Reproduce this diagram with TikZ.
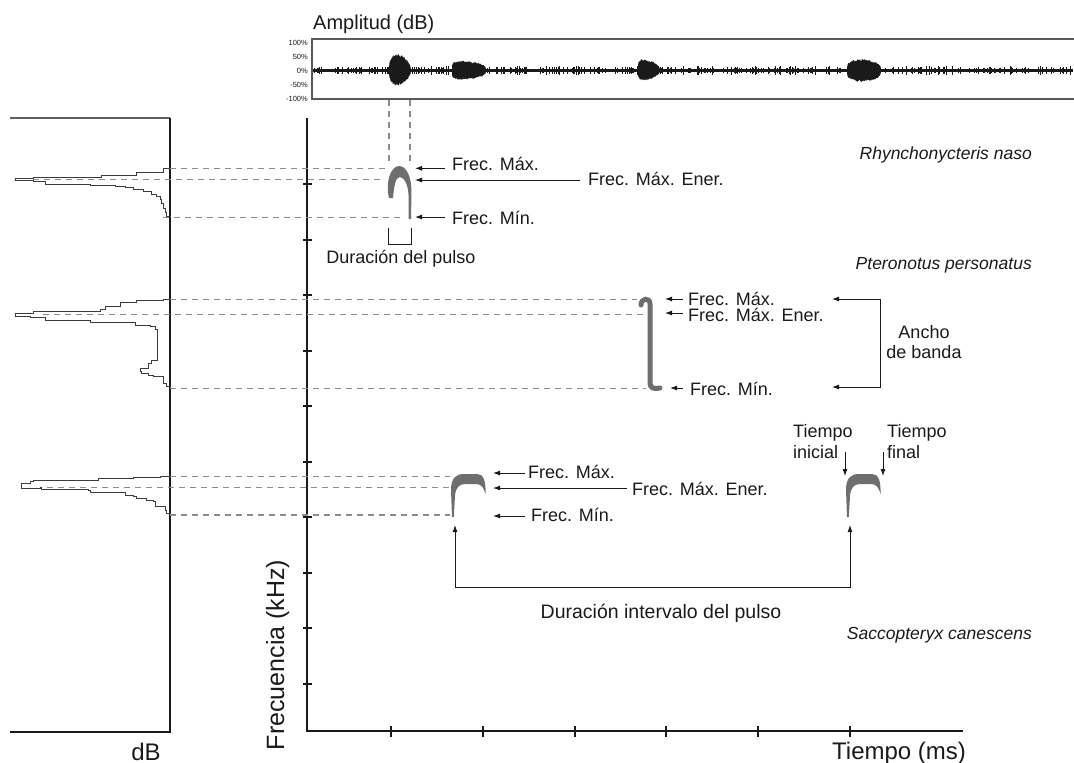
\documentclass[tikz,border=0pt]{standalone}
\usepackage{fontspec}
\setmainfont{Liberation Sans}
\usetikzlibrary{arrows.meta}
\definecolor{pulsegray}{HTML}{6E6E6E}
\definecolor{dashgray}{HTML}{8C8C8C}
\definecolor{ink}{HTML}{1A1A1A}
\newcommand\wburst[6]{%
  \fill[ink] plot[domain=0.002:0.998, samples=60] ({#1+(#2-#1)*\x}, {70.5-#3*pow(sin(180*\x^#5),#6)*(0.8+0.2*rnd)})
    -- plot[domain=0.998:0.002, samples=60] ({#1+(#2-#1)*\x}, {70.5+#4*pow(sin(180*\x^#5),#6)*(0.8+0.2*rnd)}) -- cycle;}
\newcommand\archpulse[1]{%
  \fill[pulsegray, xshift=#1] (452,517) -- (451,490) .. controls (451,478) and (456,474) .. (464,474) -- (477,474)
    .. controls (483,474) and (486,480) .. (485.5,494) .. controls (483.5,487) and (481,484) .. (476,484) -- (465,484)
    .. controls (459,484) and (455.5,488) .. (455,496) -- (453.8,517) -- cycle;}
\begin{document}
\begin{tikzpicture}[x=1pt,y=-1pt,
  lbl/.style={inner sep=0pt, text=ink, font=\fontsize{18}{20}\selectfont},
  spc/.style={inner sep=0pt, text=ink, font=\fontsize{17.5}{20}\selectfont\itshape},
  big/.style={inner sep=0pt, text=ink, font=\fontsize{24}{26}\selectfont},
  pct/.style={inner sep=0pt, text=ink, font=\fontsize{7.5}{8}\selectfont, anchor=east},
  dashline/.style={dashgray, line width=1.3pt, dash pattern=on 6pt off 5pt},
  arr/.style={ink, line width=0.9pt, -{Latex[length=7pt,width=5pt]}},
  darr/.style={ink, line width=0.9pt, {Latex[length=7pt,width=5pt]}-{Latex[length=7pt,width=5pt]}},
  spec/.style={ink!85, line width=1pt, line join=miter},
  tick/.style={ink, line width=2pt}]
\useasboundingbox (0,0) rectangle (1074,763);

% ---------- waveform panel ----------
\node[lbl, anchor=base west, font=\fontsize{20}{22}\selectfont] (amp) at (313,29.5) {Amplitud (dB)};
\draw[gray!70!black, line width=1.2pt] (1074,39) -- (312,39) -- (312,99) -- (1074,99);
\node[pct] (p100) at (308,42.7) {100\%};
\node[pct] (p50) at (308,57) {50\%};
\node[pct] (p0) at (308,70.7) {0\%};
\node[pct] (pm50) at (308,84.5) {-50\%};
\node[pct] (pm100) at (308,99) {-100\%};
\draw[ink, line width=3.6pt] (313,70.5) -- (1073,70.5);
\pgfmathsetseed{7}
\foreach \k in {1,...,380}{
  \pgfmathsetmacro\xx{314+758*rnd}
  \pgfmathsetmacro\hh{1.8+2.4*rnd}
  \draw[ink, line width=1pt] (\xx,70.5-\hh) -- (\xx,70.5+\hh);
}
\wburst{389}{411}{17}{15.5}{0.7}{0.5}
\wburst{452}{486}{10}{9.5}{0.55}{0.3}
\wburst{638}{660}{11.5}{10}{0.5}{0.4}
\wburst{847}{881}{11.5}{11.5}{0.8}{0.3}

% ---------- spectrum panel ----------
\draw[gray!75!black, line width=1.3pt] (10,118) -- (170,118);
\draw[ink, line width=1.1pt] (170,118) -- (170,732) -- (10,732);
\node[big, anchor=base] (db) at (146,760) {dB};

% spectrum 1
\draw[spec] (170,168.7) -| (163.3,172.3) -| (136,175.7) -| (101,177.3) -| (33.3,178.3) -| (15,180.7)
  -| (33.3,181.7) -| (45,184) -| (90,185.3) -| (115,186.5) -| (125,187.8) -| (133.3,189.2) -| (143.3,191.2)
  -| (151.7,194) -| (156.7,196.5) -| (160,199.5) -| (161.7,203.5) -| (163.3,208.3) -| (165,212) -| (166.7,216) -| (170,217.3);
% spectrum 2
\draw[spec] (170,299.3) -| (163.3,300) -| (136.7,302.7) -| (120,306.7) -| (105,309) -| (100,311.7) -| (33.3,313) -| (15,316.3)
  -| (30,317.7) -| (45,320) -| (90,322) -| (135,325) -| (150,326.7) -| (155,329) -| (157,360.7) -| (151.7,363.3)
  -| (148.3,368.3) -| (140,371.7) -| (141.7,373.3) -| (148.3,375) -| (153.3,376) -| (163.3,376.7) |- (165,383.3)
  -| (166.7,386.7) -| (170,388.3);
% spectrum 3
\draw[spec] (170,476.7) -| (160,477.3) -| (133.3,478.3) -| (98.3,480) -| (33.3,481.7) -| (30,483.3) -| (21.7,484.5) -- (21.7,488.3)
  -| (40,487.3) -| (41.7,489.3) -| (88.3,490) -| (90,492) -| (123.3,492.7) -| (125,495) -| (133.3,496.7) -| (136.7,498.3)
  -| (146.7,500) -| (153.3,501.7) -| (155,506) -| (160,506.7) -| (165,510.7) -| (166.7,513.3) -| (170,514.3);

% ---------- main axes ----------
\draw[ink, line width=2.4pt, line join=miter] (307,118) -- (307,731) -- (963,731);
\foreach \ty in {184,239.5,295,350.5,406,461.5,517,572.5,628,683.5}
  \draw[tick] (303,\ty) -- (312,\ty);
\foreach \tx in {391,483,574.5,666,758,850}
  \draw[tick] (\tx,725.5) -- (\tx,737);
\node[big, anchor=base west] (tiempo) at (832,759.5) {Tiempo (ms)};
\node[big, anchor=base, rotate=90, font=\fontsize{25}{27}\selectfont] (frec) at (284,655) {Frecuencia (kHz)};

% ---------- species names ----------
\node[spc, anchor=base east] (sp1) at (1032,159) {Rhynchonycteris naso};
\node[spc, anchor=base east] (sp2) at (1032,269) {Pteronotus personatus};
\node[spc, anchor=base east] (sp3) at (1032,639) {Saccopteryx canescens};

% ---------- guide lines ----------
\draw[dashline] (389,100) -- (389,163);
\draw[dashline] (410,100) -- (410,163);
\draw[dashline] (170,168.7) -- (386,168.7);
\draw[dashline] (33,179.3) -- (384,179.3);
\draw[dashline] (163,217.3) -- (402,217.3);
\draw[dashline] (170,299.3) -- (637,299.3);
\draw[dashline] (43,314.5) -- (645,314.5);
\draw[dashline] (170,388.3) -- (646,388.3);
\draw[dashline] (170,476.7) -- (450,476.7);
\draw[dashline] (47,487.3) -- (450,487.3);
\draw[dashline] (170,515) -- (450,515);

% ---------- pulses ----------
\fill[pulsegray] (389,198) .. controls (385,182) and (391,166) .. (399,166) .. controls (407,166) and (411.5,178) .. (411.5,192)
  -- (411,219) -- (408.5,219) -- (408.5,195) .. controls (408,184) and (404,177) .. (399.5,177)
  .. controls (395.5,177.5) and (394,186) .. (393,198) -- cycle;
\draw[pulsegray, line width=5pt, line cap=round] (641,305) .. controls (641,298) and (650,297) .. (650,304) -- (650,382)
  .. controls (650,389) and (654,389) .. (660,388);
\archpulse{0pt}
\archpulse{395pt}

% ---------- group 1 labels ----------
\coordinate (a1t) at (415,168.3); \coordinate (a1s) at (445,168.3);
\coordinate (a2t) at (415,180);   \coordinate (a2s) at (580,180);
\coordinate (a3t) at (415,217);   \coordinate (a3s) at (445,217);
\draw[arr] (a1s) -- (a1t);
\draw[arr] (a2s) -- (a2t);
\draw[arr] (a3s) -- (a3t);
\node[lbl, anchor=base west] (g1max) at (452,170.5) {Frec. Máx.};
\node[lbl, anchor=base west] (g1ene) at (588,185) {Frec. Máx. Ener.};
\node[lbl, anchor=base west] (g1min) at (452,224) {Frec. Mín.};
\coordinate (b1) at (388,228); \coordinate (b2) at (388,244); \coordinate (b3) at (411,244); \coordinate (b4) at (411,228);
\draw[ink, line width=0.9pt] (b1) -- (b2) -- (b3) -- (b4);
\node[lbl, anchor=base] (durp) at (401,263) {Duración del pulso};

% ---------- group 2 labels ----------
\coordinate (c1t) at (665,299); \coordinate (c1s) at (683,299);
\coordinate (c2t) at (665,313); \coordinate (c2s) at (683,313);
\coordinate (c3t) at (670,388); \coordinate (c3s) at (683,388);
\draw[arr] (c1s) -- (c1t);
\draw[arr] (c2s) -- (c2t);
\draw[arr] (c3s) -- (c3t);
\node[lbl, anchor=base west] (g2max) at (688,305) {Frec. Máx.};
\node[lbl, anchor=base west] (g2ene) at (688,321.5) {Frec. Máx. Ener.};
\node[lbl, anchor=base west] (g2min) at (690,395) {Frec. Mín.};
\coordinate (bw1) at (832,299); \coordinate (bw2) at (880,299); \coordinate (bw3) at (880,387); \coordinate (bw4) at (832,387);
\draw[darr] (bw1) -- (bw2) -- (bw3) -- (bw4);
\node[lbl, anchor=base] (anch1) at (924,338) {Ancho};
\node[lbl, anchor=base] (anch2) at (924,358) {de banda};

% ---------- group 3 labels ----------
\coordinate (d1t) at (493,473); \coordinate (d1s) at (525,473);
\coordinate (d2t) at (493,488); \coordinate (d2s) at (627,488);
\coordinate (d3t) at (493,516); \coordinate (d3s) at (525,516);
\draw[arr] (d1s) -- (d1t);
\draw[arr] (d2s) -- (d2t);
\draw[arr] (d3s) -- (d3t);
\node[lbl, anchor=base west] (g3max) at (528,478.3) {Frec. Máx.};
\node[lbl, anchor=base west] (g3ene) at (632,495) {Frec. Máx. Ener.};
\node[lbl, anchor=base west] (g3min) at (531,521.7) {Frec. Mín.};
\coordinate (i1) at (455,525); \coordinate (i2) at (455,587); \coordinate (i3) at (850,587); \coordinate (i4) at (850,525);
\draw[darr] (i1) -- (i2) -- (i3) -- (i4);
\node[lbl, anchor=base, font=\fontsize{19.5}{22}\selectfont] (durint) at (661,618.3) {Duración intervalo del pulso};
\node[lbl, anchor=base west] (ti1) at (793,437) {Tiempo};
\node[lbl, anchor=base west] (ti2) at (793,458.3) {inicial};
\node[lbl, anchor=base west] (tf1) at (887,437) {Tiempo};
\node[lbl, anchor=base west] (tf2) at (887,458.3) {final};
\coordinate (e1s) at (845,452); \coordinate (e1t) at (845,476);
\coordinate (e2s) at (883,452); \coordinate (e2t) at (883,476);
\draw[arr] (e1s) -- (e1t);
\draw[arr] (e2s) -- (e2t);
\end{tikzpicture}
\end{document}
